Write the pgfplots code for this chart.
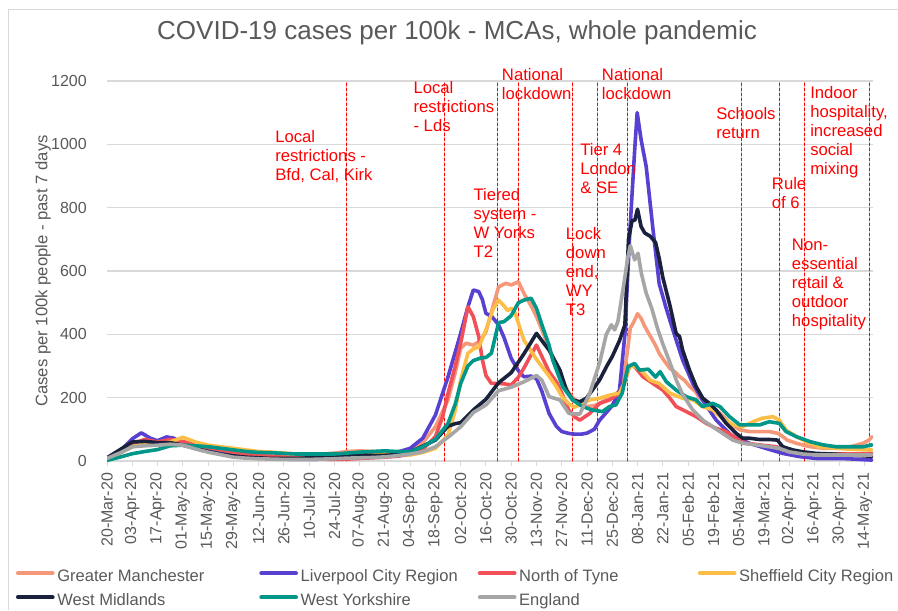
\documentclass[border=0pt]{standalone}
\usepackage{pgfplots}
\pgfplotsset{compat=1.18}
\usepackage{fontspec}
\setmainfont{Liberation Sans}
\definecolor{cGM}{RGB}{245,152,122}
\definecolor{cLV}{RGB}{88,64,208}
\definecolor{cNT}{RGB}{242,80,88}
\definecolor{cSH}{RGB}{252,190,70}
\definecolor{cWM}{RGB}{25,33,60}
\definecolor{cWY}{RGB}{0,150,136}
\definecolor{cEN}{RGB}{166,166,166}
\definecolor{txtgray}{RGB}{89,89,89}
\definecolor{gridgray}{RGB}{217,217,217}
\begin{document}
\begin{tikzpicture}
\path[use as bounding box] (0,0) rectangle (673.5pt,457.5pt);
\begin{scope}[x=0.75pt,y=-0.75pt,yshift=457.5pt]
\draw[gridgray, line width=0.75pt] (8,610) -- (8,10) -- (898,10);
\end{scope}
\begin{axis}[
  at={(80.25pt,111.75pt)}, anchor=south west,
  scale only axis, width=574.5pt, height=285pt,
  xmin=0, xmax=424.5, ymin=0, ymax=1200,
  axis lines*=left,
  x axis line style={gridgray, line width=1pt},
  y axis line style={draw=none},
  xtick={0,14,...,420},
  xticklabels={20-Mar-20,03-Apr-20,17-Apr-20,01-May-20,15-May-20,29-May-20,12-Jun-20,26-Jun-20,10-Jul-20,24-Jul-20,07-Aug-20,21-Aug-20,04-Sep-20,18-Sep-20,02-Oct-20,16-Oct-20,30-Oct-20,13-Nov-20,27-Nov-20,11-Dec-20,25-Dec-20,08-Jan-21,22-Jan-21,05-Feb-21,19-Feb-21,05-Mar-21,19-Mar-21,02-Apr-21,16-Apr-21,30-Apr-21,14-May-21},
  ytick={0,200,...,1200},
  tick align=outside,
  major tick length=3.75pt,
  xtick style={gridgray, line width=0.75pt},
  ytick style={draw=none},
  ymajorgrids,
  grid style={gridgray, line width=1pt},
  /pgf/number format/assume math mode=true,
  /pgf/number format/1000 sep={},
  ticklabel style={font=\fontsize{12}{14}\selectfont, text=txtgray, inner sep=0pt},
  xticklabel style={rotate=90, anchor=east},
  xticklabel shift=5pt,
  yticklabel shift=11.25pt,
  ylabel={Cases per 100k people - past 7 days},
  ylabel style={at={(axis description cs:-0.0836,0.5)}, anchor=center, font=\fontsize{12.5}{15}\selectfont, text=txtgray},
  title={COVID-19 cases per 100k - MCAs, whole pandemic},
  title style={at={(axis description cs:0.457,1.105)}, anchor=center, font=\fontsize{19.5}{22}\selectfont, text=txtgray},
  every axis plot/.append style={line width=2.7pt, line join=round, line cap=round},
  legend columns=4,
  legend cell align=left,
  legend image code/.code={\draw[#1, line width=3pt] (0pt,3.5pt) -- (26pt,3.5pt);},
  legend style={at={(axis description cs:-0.1188,-0.2868)}, anchor=north west,
    draw=none, fill=none, inner sep=0pt, outer sep=0pt,
    font=\fontsize{12.4}{15}\selectfont, text=txtgray,
    row sep=6pt,
    /tikz/every odd column/.style={column sep=2pt},
    nodes={inner sep=0pt, text height=9pt, text depth=3pt}},
]
% event lines
\foreach \d in {132.8,187.2,216.4,227.8,257.7,272,288.3,351.4,372.6,386.6,422.8}{
  \edef\temp{\noexpand\addplot[forget plot, red, line width=0.75pt, dash pattern=on 2.25pt off 1.5pt] coordinates {(\d,0) (\d,1200)};}
  \temp
}
% Greater Manchester
\addplot[cGM] coordinates {(0,5)(7,25)(14,45)(21,55)(28,52)(35,55)(42,55)(49,45)(56,35)(63,30)(70,25)(77,20)(84,18)(91,17)(98,16)(105,18)(112,20)(119,22)(126,25)(133,30)(140,32)(147,30)(154,28)(161,25)
(168,29)(175,58)(182,108)(189,193)(193,280)(196,356)(199,372)(203,366)(207,380)(210,408)(213,470)(217,550)(221,561)(224,556)(228,566)(231,530)(235,490)(238,456)(242,400)(245,356)(249,300)(252,255)(256,215)(259,195)(263,180)(266,172)(270,175)(273,182)(277,195)(280,205)(284,220)(286,250)(288,330)(290,420)(292,440)(294,465)(296,450)(298,425)(301,395)(304,365)(306,340)(309,315)(312,292)(315,280)(317,268)(320,255)(323,235)(326,220)(328,203)(331,188)(334,172)(337,160)(340,150)(343,132)(345,119)(348,108)(351,98)(356,93)(362,93)(367,93)(372,87)(375,75)(377,66)(382,56)(386,50)(390,45)(397,40)(404,40)(412,45)(419,56)(422,65)(424,77)};
\addlegendentry{\makebox[151.5pt][l]{Greater Manchester}}
% Liverpool
\addplot[cLV] coordinates {(0,5)(7,30)(14,70)(19,89)(24,72)(28,64)(33,76)(37,72)(42,56)(49,48)(56,40)(63,30)(70,20)(77,15)(84,10)(91,8)(98,6)(105,5)(112,5)(119,6)(126,8)(133,10)(140,14)(147,18)(154,22)(161,28)
(168,40)(175,72)(182,145)(189,266)(196,403)(200,487)(203,540)(206,535)(208,510)(210,466)(213,458)(217,430)(220,390)(224,324)(228,285)(231,266)(235,268)(238,260)(241,220)(245,150)(249,110)(252,93)(256,87)(259,85)(263,85)(266,88)(270,100)(273,129)(277,155)(280,175)(284,224)(287,400)(289.7,720)(292.4,980)(293.8,1100)(296,1014)(298.8,930)(302.4,740)(306,560)(310,480)(313.6,414)(319,319)(324.6,245)(330,193)(337.6,129)(346.8,77)(356,56)(365,40)(374.5,24)(383.7,14)(393,8)(400,8)(407,8)(414,6)(420,4)(424,3)};
\addlegendentry{\makebox[132.9pt][l]{Liverpool City Region}}
% North of Tyne
\addplot[cNT] coordinates {(0,5)(7,25)(14,55)(21,68)(28,60)(35,68)(42,62)(49,50)(56,42)(63,35)(70,28)(77,22)(84,18)(91,14)(98,12)(105,10)(112,8)(119,6)(126,5)(133,6)(140,8)(147,10)(154,12)(161,15)
(168,21)(175,37)(182,77)(186,140)(189,214)(193,300)(196,372)(200,487)(203,456)(206,393)(208,320)(210,270)(213,245)(217,245)(221,243)(224,240)(228,265)(231,293)(235,335)(238,366)(241,330)(245,282)(249,250)(252,215)(256,160)(259,140)(262,129)(267.5,150)(273,182)(278.5,193)(284,214)(287,250)(289.5,298)(292,300)(294,287)(297,266)(302.5,245)(308,224)(312,198)(315.4,172)(321,156)(326.5,140)(332,119)(337.6,103)(343,93)(348.7,72)(354,56)(361.5,51)(370.8,45)(378,29)(389.6,22)(400,22)(410,22)(420,22)(424,24)};
\addlegendentry{\makebox[134pt][l]{North of Tyne}}
% Sheffield
\addplot[cSH] coordinates {(0,8)(7,25)(14,45)(21,55)(28,52)(35,60)(42,75)(49,60)(56,50)(63,45)(70,40)(77,35)(84,30)(91,28)(98,25)(105,22)(112,20)(119,18)(126,17)(133,20)(140,25)(147,28)(154,25)(161,22)
(168,19)(175,27)(182,40)(189,82)(193,160)(196,256)(200,340)(203,354)(206,360)(210,414)(214,480)(217,508)(220,490)(222,475)(224,482)(226,470)(231,382)(238,321)(245,268)(249,235)(252,205)(256,180)(259,170)(262,177)(267.5,193)(273,198)(278.5,208)(284,214)(287,250)(289.5,298)(292,300)(294,293)(297,280)(301,255)(306,245)(312,214)(319,198)(324.6,193)(330,172)(335.7,161)(341,135)(347,114)(352,108)(358,124)(363,135)(369,140)(372.6,129)(376.3,98)(382,77)(387.4,61)(394.8,45)(404,40)(413,37)(420.6,35)(424,35)};
\addlegendentry{Sheffield City Region}
% West Midlands
\addplot[cWM] coordinates {(0,10)(7,35)(14,60)(21,62)(28,58)(35,58)(42,50)(49,40)(56,30)(63,22)(70,16)(77,12)(84,10)(91,8)(98,8)(105,8)(112,10)(119,12)(126,14)(133,18)(140,20)(147,18)(154,18)(161,20)
(168,29)(175,47)(182,66)(189,110)(193,118)(196,121)(203,161)(210,195)(217,247)(224,279)(231,338)(235,375)(238,403)(241,380)(245,350)(251,287)(254.6,224)(258,193)(262,187)(265.6,198)(269,224)(273,256)(277,300)(280,330)(284,380)(287,430)(289,700)(291,760)(292.5,760)(294,795)(296,740)(298,720)(301,710)(304,690)(306,640)(308,580)(312,490)(315.4,403)(317.3,393)(319,350)(322.8,287)(326.5,235)(330.2,198)(333.9,182)(337.6,161)(343.1,119)(348.7,87)(352.3,72)(356,72)(361.5,68)(367,68)(371.5,66)(374.5,45)(380,35)(385.6,29)(393,24)(402,22)(411.4,19)(420.6,16)(424,14)};
\addlegendentry{\makebox[151.5pt][l]{West Midlands}}
% West Yorkshire
\addplot[cWY] coordinates {(0,2)(7,12)(14,23)(21,30)(28,36)(35,48)(42,50)(49,48)(56,45)(63,40)(70,35)(77,30)(84,27)(91,26)(98,24)(105,22)(112,22)(119,22)(126,22)(133,25)(140,28)(147,30)(154,32)(161,30)
(168,29)(175,45)(182,68)(189,119)(193,180)(196,245)(200,300)(203,317)(207,325)(210,327)(213,340)(217,437)(220,440)(224,459)(228,500)(231,508)(235,514)(238,482)(241,430)(245,365)(247,319)(252.5,235)(258,193)(263.5,172)(269,161)(274.6,156)(278.5,172)(282,177)(285.5,214)(288.7,298)(292.4,308)(295,287)(300,290)(304,265)(306.5,282)(310,250)(315.4,224)(321,203)(326.5,193)(330,172)(335.7,182)(339.6,172)(345,140)(350.7,114)(356,114)(361.7,114)(367,124)(372.6,119)(376.3,93)(382,77)(389.6,61)(396.8,51)(404,45)(411.8,45)(419,45)(424,51)};
\addlegendentry{\makebox[132.9pt][l]{West Yorkshire}}
% England
\addplot[cEN] coordinates {(0,8)(7,25)(14,45)(21,48)(28,50)(35,53)(42,50)(49,38)(56,28)(63,20)(70,12)(77,9)(84,7)(91,6)(98,5)(105,5)(112,5)(119,6)(126,7)(133,9)(140,10)(147,11)(154,13)(161,17)
(168,22)(175,29)(182,45)(189,75)(196,108)(203,153)(210,177)(217,222)(224,233)(231,250)(238,270)(241,255)(245,203)(251,193)(256,150)(262,148)(267.5,214)(273,310)(276.7,400)(279.5,430)(281.3,414)(283.1,440)(285.9,540)(288.7,645)(290,680)(292.4,635)(294.3,656)(296.1,593)(298.8,530)(302,480)(305,420)(308,370)(312,310)(315.5,255)(319,210)(324.6,161)(330.2,129)(335.7,108)(341.2,87)(346.8,66)(352.3,56)(359.7,51)(367,45)(372.6,40)(378,29)(385.6,22)(393,19)(400,19)(410,19)(418,19)(424,19)};
\addlegendentry{\makebox[134pt][l]{England}}
\end{axis}
\begin{scope}[x=0.75pt,y=-0.75pt,yshift=457.5pt, every node/.style={anchor=north west, align=left, inner sep=0pt, text=red, font=\fontsize{12.5}{14.25}\selectfont}]
\node at (275,129.7) {Local\\restrictions -\\Bfd, Cal, Kirk};
\node at (413.3,80.7) {Local\\restrictions\\- Lds};
\node at (501.7,68) {National\\lockdown};
\node at (473.3,188.3) {Tiered\\system -\\W Yorks\\T2};
\node at (565.7,227.3) {Lock\\down\\end,\\WY\\T3};
\node at (580,143.3) {Tier 4\\London\\\& SE};
\node at (601.7,68) {National\\lockdown};
\node at (716,107.3) {Schools\\return};
\node at (771.7,177.3) {Rule\\of 6};
\node at (791.7,239) {Non-\\essential\\retail \&\\outdoor\\hospitality};
\node at (810,85.7) {Indoor\\hospitality,\\increased\\social\\mixing};
\end{scope}
\end{tikzpicture}
\end{document}
